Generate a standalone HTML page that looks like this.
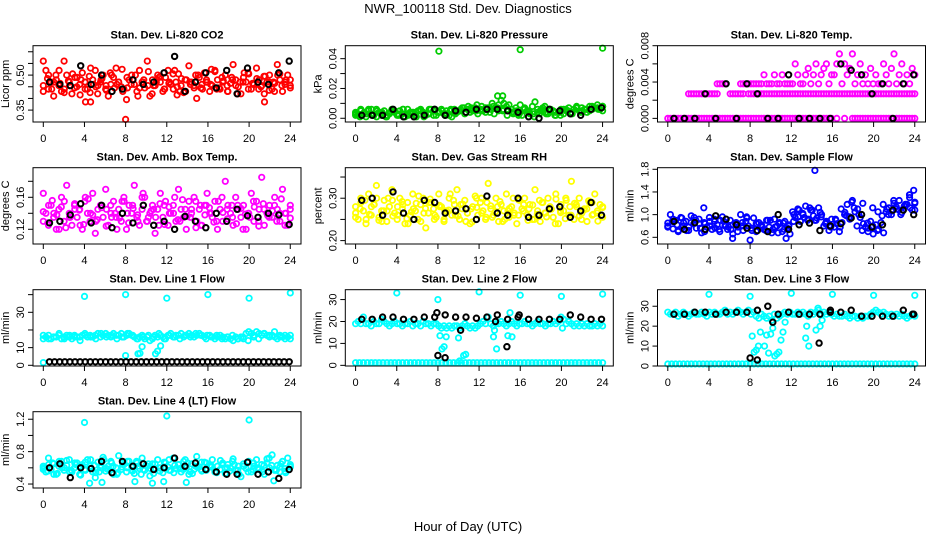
<!DOCTYPE html>
<html><head><meta charset="utf-8">
<style>
html,body{margin:0;padding:0;background:#fff;}
svg{display:block;font-family:"Liberation Sans",Arial,sans-serif;}
</style></head>
<body>
<svg id="chart" width="936" height="540" viewBox="0 0 936 540" xmlns="http://www.w3.org/2000/svg">
<text x="468" y="13" text-anchor="middle" font-size="13">NWR_100118 Std. Dev. Diagnostics</text>
<text x="468" y="531" text-anchor="middle" font-size="13">Hour of Day (UTC)</text>
</svg>
<script>
// ---- data (values in panel units) ----
const hourTicks=[0,4,8,12,16,20,24];
const co2A=[560,520,440,470,410,480,455,430,560,500,470,420,445,490,460,510,470,440,425,480,520,455,470,500,440,410,460,490,530,470,450,440,395,480,500,460,430,520,470,445,560,410,480,455,500,470,430,490,520,460,440,470,505,455,425,480,540,470,445,400,490,460,510,470,430,455,520,480,440,470,500,430,465,545,480,450,420,490,470,505,440,460,530,480,455,420,470,500,440,465,545,480,430,470,500,455];
const co2B=[430,500,470,520,440,455,490,415,470,530,450,480,435,500,460,525,445,480,410,470,515,455,490,440,470,520,430,480,460,500,445,470,525,440,490,455,480,420,470,510,460,440,495,470,430,505,460,480];
const co2C=[455,485,440,500,465,425,475,505,450,480,440,495,460,420,485,455,510,445,470,430,490,460,500,445,480,455,420,470,495,440,465,505,450,485,430,470,455,500,440,480,460,515,445,475,430,490,455,470,510,440,465,485,450,495,435,470,500,455,480,445];
const co2Black=[470,460,455,540,460,500,430,440,480,460,470,510,580,430,470,510,445,520,420,530,470,460,510,560];
const co2OutX=[4.1,4.6,8,13,21.5];
const co2OutY=[385,385,310,415,385];
const presA=[4,2,6,3,1,5,3,2,6,4,2,5,1,3,6,4,2,5,3,1,6,4,3,2,5,6,4,2,3,6,5,2,4,6,3,5,2,1,6,4,5,7,3,6,4,5,7,3,6,5,4,7,6,8,7,9,12,10,8,9,6,4,5,3,2,7,5,3,8,11,6,5,7,4,3,6,5,2,4,6,3,5,7,4,6,8,5,7,6,4,8,6,7,9,6,8];
const presB=[2,5,3,6,1,4,2,5,3,6,2,4,5,1,3,6,4,2,5,3,6,4,7,5,8,6,10,7,5,6,3,2,6,4,1,3,8,5,4,2,6,3,7,5,6,8,7,5];
const presC=[3,1,4,6,2,5,3,1,4,5,2,6,3,4,1,5,3,6,2,4,5,3,6,4,5,7,8,6,9,5,7,4,3,5,6,2,4,7,9,6,5,3,4,6,3,5,2,4,6,5,3,7,4,6,5,7,6,8];
const presBlack=[2,2,2,6,1,1,2,6,2,5,4,6,6,6,5,4,1,0,6,5,3,2,6,7];
const presOutX=[8.1,16,24,13.8,14.3];
const presOutY=[45,46,47,15,15];
const tempA=[0,0,0,0,0,0,0,0,0,0,0,0,0,0,0,0,0,0,0,0,0,0,0,0,0,0,0,0,0,0,0,0,0,0,0,0,0,0,0,0,0,0,0,0,0,0,0,0,0,0,0,0,0,0,0,0,0,0,0,0,0,0,0,0,null,0,null,null,0,null,null,0,0,0,0,0,0,0,0,0,0,0,0,0,0,0,0,null,0,0,0,0,0,0,0,0];
const tempB=[null,null,null,null,null,null,null,null,27,27,27,27,27,27,27,27,27,27,27,27,null,null,null,null,27,27,27,27,27,27,null,27,27,27,27,27,27,27,27,27,27,27,27,27,27,27,27,27,27,27,27,27,27,27,27,27,27,27,27,27,27,27,27,27,27,27,27,27,27,27,27,27,27,27,27,27,27,27,27,27,27,27,27,27,27,27,27,27,27,27,27,27,27,27,27,27];
const tempC=[null,null,null,null,null,null,null,null,null,null,null,null,null,null,null,null,null,null,null,38,38,38,38,null,null,null,null,null,38,38,38,38,38,38,38,38,38,48,38,38,38,48,38,38,48,38,38,38,38,60,48,38,38,48,55,38,48,60,38,48,55,60,38,48,48,60,71,38,60,48,55,71,38,48,60,38,48,38,55,38,48,38,38,60,48,38,55,71,38,48,60,38,48,38,55,48];
const tempBlack=[0,0,0,27,0,38,0,38,27,0,0,48,0,0,0,0,60,53,48,27,38,0,38,48];
const ambA=[165,140,125,150,135,120,145,160,130,175,140,125,150,135,145,120,155,140,130,165,115,145,150,135,170,125,140,155,135,145,130,160,120,150,140,175,135,125,145,160,130,140,150,115,145,165,135,155,125,140,150,130,170,145,135,120,155,140,160,130,145,125,150,165,140,135,155,120,145,130,180,150,140,125,160,145,135,150,120,140,165,130,155,145,185,125,140,150,135,160,145,130,170,140,125,150];
const ambB=[130,150,140,120,155,135,145,125,160,140,130,150,145,135,120,155,140,150,130,165,135,145,125,150,140,160,130,145,135,155,125,150,140,130,160,145,135,150,120,140,155,130,145,135,150,140,125,145];
const ambC=[142,128,156,138,148,122,135,152,144,126,158,138,132,147,124,150,140,134,155,128,146,138,160,130,143,135,152,126,148,140,132,157,136,145,122,150,138,147,129,155,141,133,150,127,146,139,135,148,124,152,137,143,130,158,140,134];
const ambBlack=[128,130,138,152,128,150,122,140,128,150,125,130,120,136,130,122,140,130,145,137,135,140,138,126];
const rhA=[280,250,300,270,240,310,260,285,330,255,270,295,245,280,320,265,250,300,275,240,290,260,310,270,250,285,300,230,265,290,275,255,310,280,245,270,300,260,285,320,250,275,295,265,240,280,305,260,290,270,250,335,275,260,300,245,285,270,310,255,280,265,240,295,275,300,260,285,250,320,270,245,290,265,300,275,255,310,240,285,270,295,260,340,250,280,300,265,275,245,290,260,310,270,285,255];
const rhB=[265,290,250,280,300,245,270,295,260,285,240,275,305,265,290,250,280,270,310,260,285,245,275,300,265,290,255,280,245,270,300,260,285,275,250,295,265,280,240,270,300,260,285,250,275,290,265,280];
const rhC=[255,275,295,262,285,248,270,300,258,280,292,252,268,288,245,276,298,260,283,250,272,295,258,286,265,244,278,300,255,282,268,292,250,276,260,296,270,248,284,262,290,256,274,298,266,252,280,288,258,272,294,262,246,278];
const rhBlack=[295,300,260,315,265,250,295,290,265,270,275,250,305,265,260,300,255,260,275,280,255,270,290,260];
const sampA=[85,100,75,90,70,95,80,88,72,98,84,76,92,68,86,78,95,74,88,82,70,96,80,74,90,66,84,78,100,72,88,80,76,94,70,86,82,74,90,78,68,92,80,84,70,88,76,66,105,95,110,88,100,115,92,108,98,90,112,96,80,88,72,92,78,84,70,86,100,118,92,125,105,110,95,120,78,70,88,66,82,74,86,68,105,112,100,120,110,125,104,115,118,130,108,122];
const sampB=[80,92,72,86,78,95,84,70,88,76,90,82,74,86,80,96,72,84,78,90,74,68,85,80,100,108,95,112,90,104,84,78,90,110,98,122,80,72,85,112,105,118,100,125,108,115,135,120];
const sampC=[78,88,82,94,72,86,90,76,84,80,92,74,88,78,82,70,86,94,76,84,80,72,90,78,86,74,82,88,96,102,90,108,94,100,86,80,92,78,104,96,112,100,84,76,80,72,98,110,106,114,100,118,112,108];
const sampBlack=[88,74,86,74,98,92,82,76,72,70,100,74,82,85,72,80,84,94,100,78,82,108,108,100];
const sampOutX=[14.3,23.9,23.5,3.5,6.3,8,11.5];
const sampOutY=[178,143,135,112,58,55,58];
const l1Band=[15,16,17,15,16,16,17,15,16,17,16,15,17,16,16,17,18,16,17,16,17,18,16,17,18,17,16,18,17,17,18,16,17,18,17,16,15,16,17,15,16,14,15,17,16,17,16,15,17,18,16,17,17,18,16,17,18,17,16,17,18,17,16,17,17,16,15,16,17,16,15,16,15,14,16,15,16,15,18,19,18,17,19,18,17,18,17,16,17,16,15,17,16,15,16,17];
const l1BandB=[17,15,16,18,15,17,16,14,17,16,15,18,16,17,15,16,18,17,15,16,17,16,18,15,17,16,15,17,16,18,17,15,16,17,15,16,17,15,16,14,16,15,18,17,19,16,17,15];
const l1Black=[2,2,2,2,2,2,2,2,2,2,2,2,2,2,2,2,2,2,2,2,2,2,2,2,2,2,2,2,2,2,2,2,2,2,2,2,2,2,2,2,2,2,2,2,2,2,2,2];
const l1OutX=[4,8,12,16,20,24,8,9.2,9.4,9.6,10.9,11.1,11.4,0];
const l1OutY=[39,40,38,40,38,41,5.5,6.5,6.8,10.5,6.5,8,11,1.5];
const l2Band=[19,20,19,22,19,19,18,20,19,19,21,20,19,18,19,20,19,19,18,19,19,20,18,19,19,18,20,19,19,18,19,19,18,17,18,17,18,17,18,18,17,18,19,18,17,18,17,18,19,20,19,22,19,18,19,19,20,19,18,19,20,19,18,19,19,20,19,19,18,19,20,19,19,18,19,19,20,19,20,22,21,19,20,19,18,19,18,19,18,19,18,18,19,18,19,18];
const l2Bottom=[1.2,1.2,1.2,1.2,1.2,1.2,1.2,1.2,1.2,1.2,1.2,1.2,1.2,1.2,1.2,1.2,1.2,1.2,1.2,1.2,1.2,1.2,1.2,1.2,1.2,1.2,1.2,1.2,1.2,1.2,1.2,1.2,1.2,1.2,1.2,1.2,1.2,1.2,1.2,1.2,1.2,1.2,1.2,1.2,1.2,1.2,1.2,1.2,1.2,1.2,1.2,1.2,1.2,1.2,1.2,1.2,1.2,1.2,1.2,1.2,1.2,1.2,1.2,1.2];
const l2OutX=[4,8,12,16,20,24,8.2,8.4,8.6,8.8,10,10.1,10.5,10.7,13.4,13.5,13.7,14.8,15,15.2,20.1];
const l2OutY=[33,30,33.5,32,31.5,32.5,13.5,7.5,8.5,13,12.5,2,4.5,5,13,16,7.5,13.5,24,13,17];
const l2Black=[21,21,22,22,21,21,22,22,23,22,22,21.5,22,23,21,22,21,21,21,21,23,22,21,21];
const l2BlkOutX=[7.9,8,8.7,10.2,13.6,14.7,15.9];
const l2BlkOutY=[24,4.5,3.5,16,20,8.5,23];
const l3Band=[27,26,26,27,25,26,27,26,25,26,27,26,26,27,26,25,27,26,27,26,26,27,28,26,27,26,27,28,27,26,27,28,26,27,25,24,26,25,24,25,23,26,24,25,26,27,26,27,26,26,27,26,27,26,25,27,26,27,28,26,27,26,27,26,25,26,25,25,26,25,24,25,25,24,25,24,25,25,26,27,28,27,26,27,26,25,26,25,26,25,26,25,24,25,26,25];
const l3Bottom=[1,1,1,1,1,1,1,1,1,1,1,1,1,1,1,1,1,1,1,1,1,1,1,1,1,1,1,1,1,1,1,1,1,1,1,1,1,1,1,1,1,1,1,1,1,1,1,1,1,1,1,1,1,1,1,1,1,1,1,1,1,1,1,1];
const l3OutX=[4,8,12,16,20,24,8.2,8.4,8.6,8.8,9,9.4,9.6,9.8,10,10.2,10.4,10.6,10.8,11,11.2,11.4,13.4,13.5,13.7,14.4,14.6,14.8,15];
const l3OutY=[36,35,36.5,36,35.5,35.5,15,7,8,10,17,10,15.5,6.5,16,19,5,6,7,13,17,22,14,20,10,18,29,20,23];
const l3Black=[26,26,27,27,26,27,27,27,28,30,26,27,26,26,26,27,27,28,25,25,25,25,28,26];
const l3BlkOutX=[8,8.7,10.2,14.7,15.8,23.8];
const l3BlkOutY=[4,3,22,11.5,28,26];
const l4A=[60,55,72,58,65,52,62,68,57,63,70,55,60,66,52,64,58,70,62,55,48,67,60,73,56,62,68,52,60,75,58,64,55,68,61,53,66,59,72,57,62,50,65,58,70,60,54,66,61,57,72,59,64,55,68,60,52,65,58,74,61,56,67,59,63,70,55,62,58,66,53,64,60,71,57,62,49,65,59,68,55,62,70,58,64,52,66,60,76,57,63,55,68,59,72,61];
const l4B=[58,64,52,68,60,55,66,62,57,70,54,63,59,66,52,61,68,56,62,58,65,53,60,67,57,63,59,70,55,62,58,66,61,54,64,60,68,57,62,55,66,59,63,72,58,61,56,64];
const l4C=[62,56,66,53,60,69,57,64,51,67,59,63,55,70,58,62,54,66,60,57,68,52,63,59,65,56,61,70,54,64,58,66,53,61,67,57,63,55,69,60,56,64,52,62,67,58,60,55,71,63,57,65,54,62];
const l4OutX=[4,12,20,4.5,5.7,8.9,10.6,11.7,13.9,22.4];
const l4OutY=[116,124,119,41,42,43,41,43,42,44];
const l4Black=[60,65,48,60,59,68,54,68,62,65,58,60,72,62,66,58,55,52,52,67,52,55,47,58];

// ---- layout ----
const X0=[43.3,355.6,667.8];
const PXH=10.29;
const ROW_TOP=45.7, ROW_BOT=122, ROW_STEP=122;
const NS='http://www.w3.org/2000/svg';
const svg=document.getElementById('chart');

const panels=[
 {key:'co2',col:0,row:0,title:'Stan. Dev. Li-820 CO2',ylab:'Licor ppm',ylim:[299,626],ticks:[350,400,450,500,550,600],labels:[[350,'0.35'],[500,'0.50']],color:'#ff0000',
  seq:[co2A,co2B,co2C],blk:[co2Black],out:[[co2OutX,co2OutY]],blkOut:[]},
 {key:'pressure',col:1,row:0,title:'Stan. Dev. Li-820 Pressure',ylab:'kPa',ylim:[-2.5,48.7],ticks:[0,10,20,30,40],labels:[[0,'0.00'],[20,'0.02'],[40,'0.04']],color:'#00cc00',
  seq:[presA,presB,presC],blk:[presBlack],out:[[presOutX,presOutY]],blkOut:[]},
 {key:'temp',col:2,row:0,title:'Stan. Dev. Li-820 Temp.',ylab:'degrees C',ylim:[-4,80],ticks:[0,20,40,60,80],labels:[[0,'0.000'],[40,'0.004'],[80,'0.008']],color:'#ff00ff',
  seq:[tempA,tempB,tempC],blk:[tempBlack],out:[],blkOut:[]},
 {key:'ambbox',col:0,row:1,title:'Stan. Dev. Amb. Box Temp.',ylab:'degrees C',ylim:[101.6,197],ticks:[120,140,160,180],labels:[[120,'0.12'],[160,'0.16']],color:'#ff00ff',
  seq:[ambA,ambB,ambC],blk:[ambBlack],out:[],blkOut:[]},
 {key:'rh',col:1,row:1,title:'Stan. Dev. Gas Stream RH',ylab:'percent',ylim:[192,372],ticks:[200,250,300,350],labels:[[200,'0.20'],[300,'0.30']],color:'#ffff00',
  seq:[rhA,rhB,rhC],blk:[rhBlack],out:[],blkOut:[]},
 {key:'sampleflow',col:2,row:1,title:'Stan. Dev. Sample Flow',ylab:'ml/min',ylim:[48.2,182.8],ticks:[60,100,140,180],labels:[[60,'0.6'],[100,'1.0'],[140,'1.4'],[180,'1.8']],color:'#0000ff',
  seq:[sampA,sampB,sampC],blk:[sampBlack],out:[[sampOutX,sampOutY]],blkOut:[]},
 {key:'line1',col:0,row:2,title:'Stan. Dev. Line 1 Flow',ylab:'ml/min',ylim:[-0.4,42.8],ticks:[0,10,20,30,40],labels:[[0,'0'],[10,'10'],[30,'30']],color:'#00ffff',
  seq:[l1Band,l1BandB],blk:[l1Black],out:[[l1OutX,l1OutY]],blkOut:[]},
 {key:'line2',col:1,row:2,title:'Stan. Dev. Line 2 Flow',ylab:'ml/min',ylim:[-0.3,34.5],ticks:[0,10,20,30],labels:[[0,'0'],[10,'10'],[20,'20'],[30,'30']],color:'#00ffff',
  seq:[l2Band,l2Bottom],blk:[l2Black],out:[[l2OutX,l2OutY]],blkOut:[[l2BlkOutX,l2BlkOutY]]},
 {key:'line3',col:2,row:2,title:'Stan. Dev. Line 3 Flow',ylab:'ml/min',ylim:[0,38.3],ticks:[0,10,20,30],labels:[[0,'0'],[10,'10'],[20,'20'],[30,'30']],color:'#00ffff',
  seq:[l3Band,l3Bottom],blk:[l3Black],out:[[l3OutX,l3OutY]],blkOut:[[l3BlkOutX,l3BlkOutY]]},
 {key:'line4',col:0,row:3,title:'Stan. Dev. Line 4 (LT) Flow',ylab:'ml/min',ylim:[35.1,129.3],ticks:[40,60,80,100,120],labels:[[40,'0.4'],[80,'0.8'],[120,'1.2']],color:'#00ffff',
  seq:[l4A,l4B,l4C],blk:[l4Black],out:[[l4OutX,l4OutY]],blkOut:[]}
];

function el(tag,parent){const e=document.createElementNS(NS,tag);parent.appendChild(e);return e;}

panels.forEach(p=>{
  const x0=X0[p.col];
  const top=ROW_TOP+ROW_STEP*p.row, bot=ROW_BOT+ROW_STEP*p.row;
  const left=x0-10.3, right=x0+257.7;
  const xs=h=>x0+h*PXH;
  const ys=v=>bot-(v-p.ylim[0])/(p.ylim[1]-p.ylim[0])*(bot-top);
  const g=el('g',svg);
  
  
  const t=el('text',g);
  
  
  t.setAttribute('x',(left+right)/2);t.setAttribute('y',top-7);
  t.setAttribute('text-anchor','middle');t.setAttribute('font-size','11');t.setAttribute('font-weight','bold');
  t.textContent=p.title;
  const yl=el('text',g);
  
  
  const ylx=left-24, yly=(top+bot)/2;
  yl.setAttribute('transform','translate('+ylx+','+yly+') rotate(-90)');
  yl.setAttribute('text-anchor','middle');yl.setAttribute('font-size','11');
  yl.textContent=p.ylab;
  const pts=el('g',g);
  
  
  function dot(x,y,c,nm,sw){
    if(y===null||y===undefined)return;
    const c1=el('circle',pts);
    
    
    c1.setAttribute('cx',xs(x).toFixed(1));c1.setAttribute('cy',ys(y).toFixed(1));
    c1.setAttribute('r','2.7');c1.setAttribute('fill','none');c1.setAttribute('stroke',c);c1.setAttribute('stroke-width',sw);
  }
  p.seq.forEach(arr=>{const n=arr.length;arr.forEach((v,i)=>dot(i*24/(n-1),v,p.color,'point','1.8'));});
  p.out.forEach(([ax,ay])=>ax.forEach((x,i)=>dot(x,ay[i],p.color,'outlier-point','1.8')));
  p.blk.forEach(arr=>{const n=arr.length;arr.forEach((v,i)=>dot(0.6+i*23.3/(n-1),v,'#000','hourly-point','2'));});
  p.blkOut.forEach(([ax,ay])=>ax.forEach((x,i)=>dot(x,ay[i],'#000','hourly-outlier','2')));
  const r=el('rect',g);
  
  
  r.setAttribute('x',left);r.setAttribute('y',top);r.setAttribute('width',right-left);r.setAttribute('height',bot-top);
  r.setAttribute('fill','none');r.setAttribute('stroke','#000');r.setAttribute('stroke-width','1');
  hourTicks.forEach(h=>{
    const ln=el('line',g);
    
    
    ln.setAttribute('x1',xs(h));ln.setAttribute('x2',xs(h));ln.setAttribute('y1',bot);ln.setAttribute('y2',bot+5);
    ln.setAttribute('stroke','#000');
    const tx=el('text',g);
    
    
    tx.setAttribute('x',xs(h));tx.setAttribute('y',bot+20);tx.setAttribute('text-anchor','middle');tx.setAttribute('font-size','11');
    tx.textContent=h;
  });
  p.ticks.forEach(v=>{
    const ln=el('line',g);
    
    
    ln.setAttribute('x1',left-5);ln.setAttribute('x2',left);ln.setAttribute('y1',ys(v));ln.setAttribute('y2',ys(v));
    ln.setAttribute('stroke','#000');
  });
  p.labels.forEach(([v,s])=>{
    const tx=el('text',g);
    
    
    tx.setAttribute('transform','translate('+(left-9)+','+ys(v)+') rotate(-90)');
    tx.setAttribute('text-anchor','middle');tx.setAttribute('font-size','11');
    tx.textContent=s;
  });
});
</script>
</body></html>
